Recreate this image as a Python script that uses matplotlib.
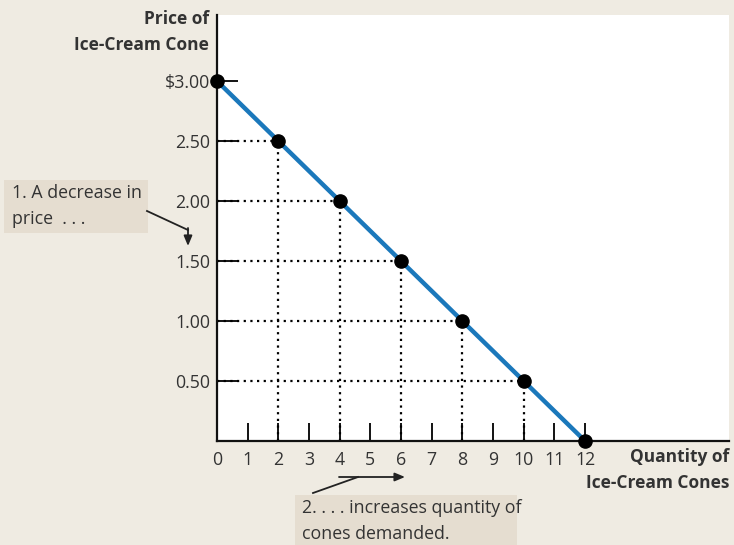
import matplotlib.pyplot as plt

plt.rcParams['font.family'] = ['Open Sans', 'DejaVu Sans']

# demand schedule
quantity = [0, 2, 4, 6, 8, 10, 12]
price = [3.00, 2.50, 2.00, 1.50, 1.00, 0.50, 0.00]

x_ticks = list(range(13))
y_ticks = [0.5, 1.0, 1.5, 2.0, 2.5, 3.0]
y_labels = ['0.50', '1.00', '1.50', '2.00', '2.50', '$3.00']

bg = '#efebe2'
boxc = '#e5ddd0'
blue = '#1b78bb'
txt = '#333333'
fs = 12.8

fig = plt.figure(figsize=(7.34, 5.45), dpi=100, facecolor=bg)
ax = fig.add_axes([217/734, 104/545, 512/734, 426/545])
ax.set_facecolor('white')
ax.set_xlim(0, 512/30.67)
ax.set_ylim(0, 426/120)

# dotted guide lines
for q, p in zip(quantity[1:-1], price[1:-1]):
    ax.plot([0, q], [p, p], ls=(0, (1, 2)), color='black', lw=1.6, zorder=2)
    ax.plot([q, q], [0, p], ls=(0, (1, 2)), color='black', lw=1.6, zorder=2)

ax.plot(quantity, price, color=blue, lw=3.2, zorder=3, clip_on=False)
ax.plot(quantity, price, 'o', color='black', ms=9.5, zorder=4, clip_on=False)

for s in ['top', 'right']:
    ax.spines[s].set_visible(False)
for s in ['left', 'bottom']:
    ax.spines[s].set_linewidth(1.6)
    ax.spines[s].set_color('#111111')

ax.set_xticks(x_ticks)
ax.set_xticklabels([str(v) for v in x_ticks])
ax.set_yticks(y_ticks)
ax.set_yticklabels(y_labels)
ax.tick_params(axis='x', direction='in', length=13, width=1.3, pad=7,
               labelsize=fs, labelcolor=txt)
ax.tick_params(axis='y', direction='in', length=15, width=1.3, pad=5,
               labelsize=fs, labelcolor=txt)

# axis titles
fig.text(209/734, 1 - 32/545, 'Price of\nIce-Cream Cone', ha='right', va='center',
         fontsize=12.5, fontweight='bold', color=txt, linespacing=1.6)
fig.text(729/734, 1 - 457/545, 'Quantity of', ha='right', va='center',
         fontsize=12.5, fontweight='bold', color=txt)
fig.text(729/734, 1 - 483/545, 'Ice-Cream Cones', ha='right', va='center',
         fontsize=12.5, fontweight='bold', color=txt)

# annotation 1
fig.patches.append(plt.Rectangle((4/734, 1 - 233/545), 144/734, 53/545,
                                 transform=fig.transFigure, facecolor=boxc,
                                 edgecolor='none'))
fig.text(12/734, 1 - 206/545, '1. A decrease in\nprice  . . .', ha='left', va='center',
         fontsize=fs, color=txt, linespacing=1.55)
fig.add_artist(plt.Line2D([147/734, 188/734], [1 - 211/545, 1 - 230/545],
                          transform=fig.transFigure, color='#222222', lw=1.3))
fig.add_artist(plt.Annotation('', xy=(188/734, 1 - 246/545), xytext=(188/734, 1 - 228/545),
                              xycoords='figure fraction', textcoords='figure fraction',
                              arrowprops=dict(arrowstyle='-|>,head_width=0.25,head_length=0.6',
                                              color='#222222', lw=1.3,
                                              mutation_scale=10, shrinkA=0, shrinkB=0)))

# annotation 2
fig.patches.append(plt.Rectangle((295/734, 0), 222/734, 50/545,
                                 transform=fig.transFigure, facecolor=boxc,
                                 edgecolor='none'))
fig.text(302/734, 1 - 521/545, '2. . . . increases quantity of\ncones demanded.',
         ha='left', va='center', fontsize=fs, color=txt, linespacing=1.55)
fig.add_artist(plt.Line2D([313/734, 358/734], [1 - 493/545, 1 - 477/545],
                          transform=fig.transFigure, color='#222222', lw=1.3))
fig.add_artist(plt.Annotation('', xy=(405/734, 1 - 477/545), xytext=(339/734, 1 - 477/545),
                              xycoords='figure fraction', textcoords='figure fraction',
                              arrowprops=dict(arrowstyle='-|>,head_width=0.25,head_length=0.6',
                                              color='#222222', lw=1.3,
                                              mutation_scale=10, shrinkA=0, shrinkB=0)))

fig.savefig('out.png', dpi=100, facecolor=bg)
